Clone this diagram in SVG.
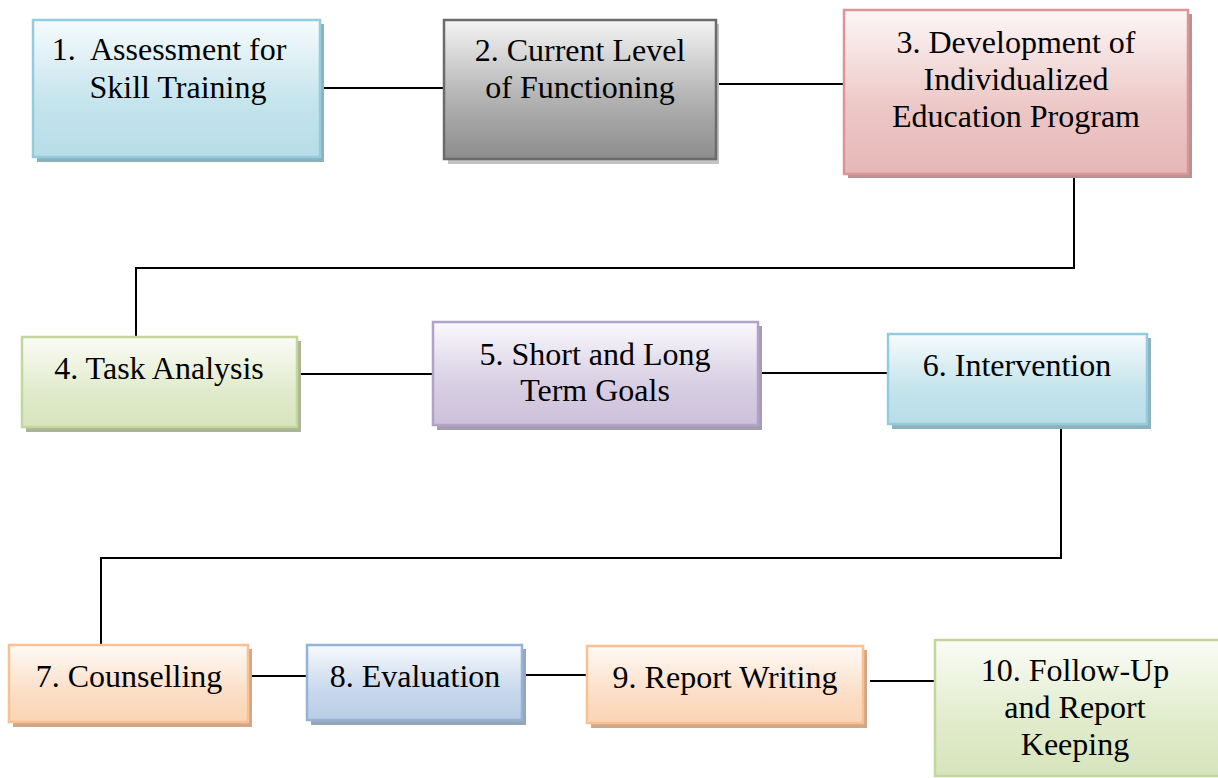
<svg xmlns="http://www.w3.org/2000/svg" width="1218" height="778" viewBox="0 0 1218 778">
<defs>
<linearGradient id="gBlue" x1="0" y1="0" x2="0" y2="1"><stop offset="0" stop-color="#f6fbfd"/><stop offset="0.6" stop-color="#c5e4ec"/><stop offset="1" stop-color="#b7dde8"/></linearGradient>
<linearGradient id="gGrey" x1="0" y1="0" x2="0" y2="1"><stop offset="0" stop-color="#f4f4f4"/><stop offset="0.55" stop-color="#b4b4b4"/><stop offset="1" stop-color="#8c8c8c"/></linearGradient>
<linearGradient id="gRed" x1="0" y1="0" x2="0" y2="1"><stop offset="0" stop-color="#fdf6f6"/><stop offset="0.6" stop-color="#ecc7c6"/><stop offset="1" stop-color="#e5b8b7"/></linearGradient>
<linearGradient id="gGreen" x1="0" y1="0" x2="0" y2="1"><stop offset="0" stop-color="#fafcf6"/><stop offset="0.6" stop-color="#e1ebcc"/><stop offset="1" stop-color="#d7e4bd"/></linearGradient>
<linearGradient id="gPurple" x1="0" y1="0" x2="0" y2="1"><stop offset="0" stop-color="#faf8fc"/><stop offset="0.6" stop-color="#d8cfe3"/><stop offset="1" stop-color="#ccc1da"/></linearGradient>
<linearGradient id="gOrange" x1="0" y1="0" x2="0" y2="1"><stop offset="0" stop-color="#fffaf6"/><stop offset="0.6" stop-color="#fbdfc8"/><stop offset="1" stop-color="#fbd4b4"/></linearGradient>
<linearGradient id="gSteel" x1="0" y1="0" x2="0" y2="1"><stop offset="0" stop-color="#f8fafd"/><stop offset="0.6" stop-color="#c8d8ec"/><stop offset="1" stop-color="#b9cde5"/></linearGradient>
</defs>
<style>
text{font-family:"Liberation Serif","Times New Roman",serif;font-size:32px;fill:#000;text-anchor:middle}
.conn{fill:none;stroke:#000;stroke-width:2}
.b{stroke-width:2.5}
.blue{fill:url(#gBlue);stroke:#93cddd}
.blueS{fill:#8fb1bb}
.grey{fill:url(#gGrey);stroke:#6b6b6b}
.greyS{fill:#c2c2c2}
.red{fill:url(#gRed);stroke:#d99694}
.redS{fill:#b99190}
.green{fill:url(#gGreen);stroke:#c3d69b}
.greenS{fill:#a9b596}
.purple{fill:url(#gPurple);stroke:#b3a2c7}
.purpleS{fill:#a69cb2}
.orange{fill:url(#gOrange);stroke:#fac090}
.orangeS{fill:#cfa88a}
.steel{fill:url(#gSteel);stroke:#95b3d7}
.steelS{fill:#97a6b7}
</style>
<g id="connectors">
<path class="conn" d="M320 88 H444"/>
<path class="conn" d="M717 84 H844"/>
<path class="conn" d="M1074 175 V268 H136 V337"/>
<path class="conn" d="M296 374 H433"/>
<path class="conn" d="M759 373 H888"/>
<path class="conn" d="M1061 424 V558 H101 V645"/>
<path class="conn" d="M248 676 H307"/>
<path class="conn" d="M523 675 H587"/>
<path class="conn" d="M870 681 H935"/>
</g>
<g id="node1">
<rect class="blueS" x="37" y="24" width="287" height="138"/>
<rect class="blue b" x="33" y="20" width="287" height="137"/>
<text x="169" y="60" xml:space="preserve">1.  Assessment for</text>
<text x="178" y="98">Skill Training</text>
</g>
<g id="node2">
<rect class="greyS" x="448" y="24" width="271" height="140"/>
<rect class="grey b" x="444" y="20" width="272" height="139"/>
<text x="580" y="61">2. Current Level</text>
<text x="580" y="98">of Functioning</text>
</g>
<g id="node3">
<rect class="redS" x="848" y="14" width="344" height="164"/>
<rect class="red b" x="844" y="10" width="344" height="164"/>
<text x="1016" y="53">3. Development of</text>
<text x="1016" y="90">Individualized</text>
<text x="1016" y="127">Education Program</text>
</g>
<g id="node4">
<rect class="greenS" x="26" y="341" width="275" height="91"/>
<rect class="green b" x="22" y="337" width="275" height="90"/>
<text x="159" y="379">4. Task Analysis</text>
</g>
<g id="node5">
<rect class="purpleS" x="437" y="326" width="325" height="104"/>
<rect class="purple b" x="433" y="322" width="325" height="103"/>
<text x="595" y="365">5. Short and Long</text>
<text x="595" y="401">Term Goals</text>
</g>
<g id="node6">
<rect class="blueS" x="892" y="338" width="259" height="91"/>
<rect class="blue b" x="888" y="334" width="259" height="90"/>
<text x="1017" y="376">6. Intervention</text>
</g>
<g id="node7">
<rect class="orangeS" x="13" y="649" width="239" height="78"/>
<rect class="orange b" x="9" y="645" width="239" height="77"/>
<text x="129" y="687">7. Counselling</text>
</g>
<g id="node8">
<rect class="steelS" x="311" y="649" width="215" height="76"/>
<rect class="steel b" x="307" y="645" width="215" height="75"/>
<text x="415" y="687">8. Evaluation</text>
</g>
<g id="node9">
<rect class="orangeS" x="591" y="650" width="276" height="78"/>
<rect class="orange b" x="587" y="646" width="276" height="77"/>
<text x="725" y="688">9. Report Writing</text>
</g>
<g id="node10">
<rect class="green b" x="935" y="640" width="290" height="136"/>
<text x="1075" y="681">10. Follow-Up</text>
<text x="1075" y="718">and Report</text>
<text x="1075" y="755">Keeping</text>
</g>
</svg>
